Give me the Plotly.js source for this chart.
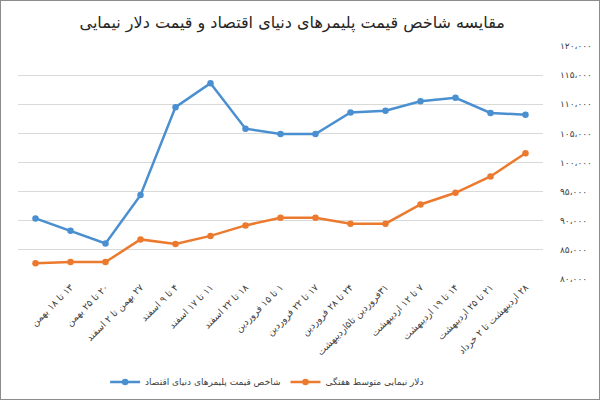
<!DOCTYPE html>
<html>
<head>
<meta charset="utf-8">
<script src="https://cdn.plot.ly/plotly-3.0.1.min.js"></script>
<style>
  html, body { margin: 0; padding: 0; background: #fff; }
  #chart { width: 600px; height: 400px; box-sizing: border-box; border: 1px solid #8c8c8c; }
</style>
</head>
<body>
<div id="chart"></div>
<script>
// Category index positions (15 weekly periods; the first period has no visible label)
const weekIndex = [0,1,2,3,4,5,6,7,8,9,10,11,12,13,14];
const weekLabels = [
  "",
  "۱۳ تا ۱۸ بهمن",
  "۲۰ تا ۲۵ بهمن",
  "۲۷ بهمن تا ۲ اسفند",
  "۴ تا ۹ اسفند",
  "۱۱ تا ۱۷ اسفند",
  "۱۸ تا ۲۲ اسفند",
  "۱ تا ۱۵ فروردین",
  "۱۷ تا ۲۲ فروردین",
  "۲۴ تا ۲۸ فروردین",
  "۳۱فروردین تا۵اردیبهشت",
  "۷ تا ۱۲ اردیبهشت",
  "۱۴ تا ۱۹ اردیبهشت",
  "۲۱ تا ۲۵ اردیبهشت",
  "۲۸ اردیبهشت تا ۲ خرداد"
];

const polymerIndex = [90400, 88300, 86100, 94400, 109500, 113600, 105800, 104900, 104900, 108600, 108900, 110500, 111100, 108500, 108200];
const nimaDollar   = [82700, 82900, 82900, 86800, 86000, 87400, 89200, 90500, 90500, 89500, 89500, 92800, 94800, 97600, 101600];

const polymerName = "شاخص قیمت پلیمرهای دنیای اقتصاد";
const dollarName  = "دلار نیمایی متوسط هفتگی";
const chartTitle  = "مقایسه شاخص قیمت پلیمرهای دنیای اقتصاد و قیمت دلار نیمایی";

const yTickVals = [80000, 85000, 90000, 95000, 100000, 105000, 110000, 115000, 120000];
const yTickText = ["۸۰،۰۰۰", "۸۵،۰۰۰", "۹۰،۰۰۰", "۹۵،۰۰۰", "۱۰۰،۰۰۰", "۱۰۵،۰۰۰", "۱۱۰،۰۰۰", "۱۱۵،۰۰۰", "۱۲۰،۰۰۰"];

// Right-to-left mark so that Persian digits stay in reading order inside SVG text
const RLM = "\u200F";
const rtl = s => (s === "" ? "" : RLM + s + RLM);

const FONT = "Tahoma, 'DejaVu Sans', sans-serif";
const BLUE = "#4a8fd0";
const ORANGE = "#ec7a2e";

const traces = [
  {
    x: weekIndex, y: polymerIndex, name: rtl(polymerName),
    type: "scatter", mode: "lines+markers",
    line: { color: BLUE, width: 2.5 },
    marker: { color: BLUE, size: 6.5 }
  },
  {
    x: weekIndex, y: nimaDollar, name: rtl(dollarName),
    type: "scatter", mode: "lines+markers",
    line: { color: ORANGE, width: 2.5 },
    marker: { color: ORANGE, size: 6.5 }
  }
];

const layout = {
  width: 598, height: 398,
  margin: { l: 17, r: 56, t: 45, b: 120, autoexpand: false },
  paper_bgcolor: "#ffffff",
  plot_bgcolor: "#ffffff",
  font: { family: FONT, size: 10, color: "#404040" },
  title: {
    text: chartTitle,
    x: 0.487, xanchor: "center",
    y: 0.945, yanchor: "middle",
    font: { family: FONT, size: 16, color: "#262626" }
  },
  xaxis: {
    range: [-0.5, 14.5],
    tickmode: "array",
    tickvals: weekIndex,
    ticktext: weekLabels.map(rtl),
    tickangle: -45,
    automargin: false,
    showgrid: false,
    zeroline: false,
    showline: false,
    ticks: "",
    tickfont: { family: FONT, size: 9.5, color: "#404040" },
    fixedrange: true
  },
  yaxis: {
    side: "right",
    range: [80000, 120000],
    tickmode: "array",
    tickvals: yTickVals,
    ticktext: yTickText.map(rtl),
    automargin: false,
    showgrid: true,
    gridcolor: "#d9d9d9",
    gridwidth: 1,
    zeroline: false,
    showline: false,
    ticks: "",
    ticklabelstandoff: 16,
    tickfont: { family: FONT, size: 9, color: "#404040" },
    fixedrange: true
  },
  showlegend: true,
  legend: {
    orientation: "h",
    xref: "container", yref: "container",
    x: 0.445, xanchor: "center",
    y: 0.043, yanchor: "middle",
    font: { family: FONT, size: 9, color: "#404040" },
    itemwidth: 30
  },
  hovermode: false
};

Plotly.newPlot("chart", traces, layout, { displayModeBar: false, staticPlot: true });
</script>
</body>
</html>
